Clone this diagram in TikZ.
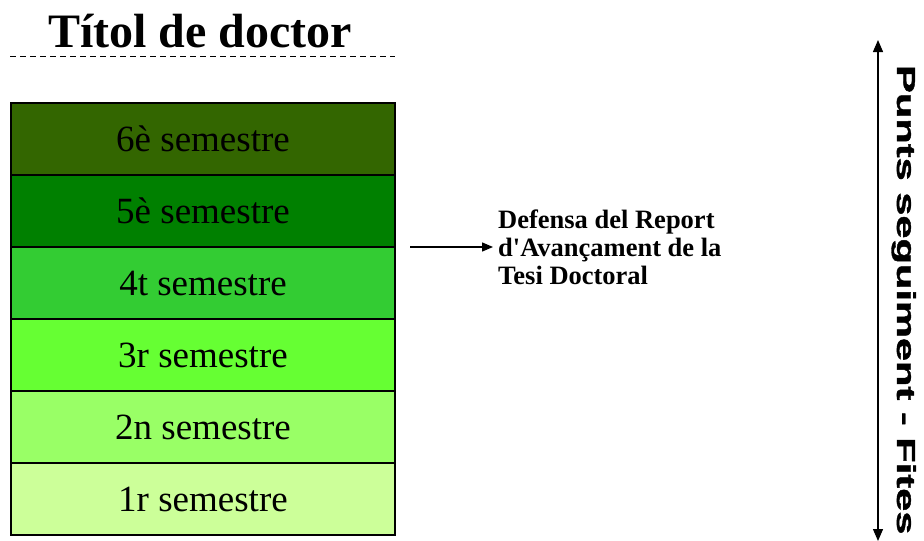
\documentclass[tikz,border=0pt]{standalone}
\usepackage{fontspec}
\setmainfont{Liberation Serif}
\newfontfamily\vsans[FakeBold=1.2]{Liberation Sans Bold}
\usetikzlibrary{arrows.meta}
\definecolor{semA}{HTML}{CCFF99}
\definecolor{semB}{HTML}{99FF66}
\definecolor{semC}{HTML}{66FF33}
\definecolor{semD}{HTML}{33CC33}
\definecolor{semE}{HTML}{008000}
\definecolor{semF}{HTML}{336600}
\tikzset{
  sembox/.style={draw=black, line width=1.2pt, minimum width=384pt, minimum height=72pt,
    inner sep=0pt, font=\fontsize{37}{40}\selectfont, text=black},
  conn/.style={line width=1.3pt, -{Triangle[width=9pt,length=11pt]}},
}
\begin{document}
\begin{tikzpicture}[x=1pt,y=-1pt]
\useasboundingbox[fill=white] (0,0) rectangle (924,541);
% title
\node[anchor=base, inner sep=0pt, font=\fontsize{48}{50}\selectfont\bfseries] (title) at (200,47) {Títol de doctor};
\coordinate (dl) at (10,56);
\coordinate (dr) at (395,56);
\draw[line width=1pt, dash pattern=on 6pt off 4pt] (dl) -- (dr);
% semesters
\node[sembox, fill=semF] (s6) at (203,139) {6è semestre};
\node[sembox, fill=semE] (s5) at (203,211) {5è semestre};
\node[sembox, fill=semD] (s4) at (203,283) {4t semestre};
\node[sembox, fill=semC] (s3) at (203,355) {3r semestre};
\node[sembox, fill=semB] (s2) at (203,427) {2n semestre};
\node[sembox, fill=semA] (s1) at (203,499) {1r semestre};
% defensa
\node[anchor=west, inner sep=0pt, align=left, font=\fontsize{26.5}{28}\selectfont\bfseries] (def) at (498,247)
  {Defensa del Report\\d\textquotesingle Avançament de la\\Tesi Doctoral};
\coordinate (as) at (410,247);
\draw[conn] (as) -- ([xshift=-5pt]def.west);
% vertical arrow
\coordinate (vt) at (878,40);
\coordinate (vb) at (878,541);
\draw[line width=1.3pt, {Triangle[width=10pt,length=12pt]}-{Triangle[width=10pt,length=12pt]}] (vt) -- (vb);
\node[rotate=-90, anchor=base west, inner sep=0pt, font=\fontsize{26}{28}\selectfont\vsans] (vtext) at (897,65)
  {\scalebox{1.6}[1]{Punts seguiment - Fites}};
\end{tikzpicture}
\end{document}
